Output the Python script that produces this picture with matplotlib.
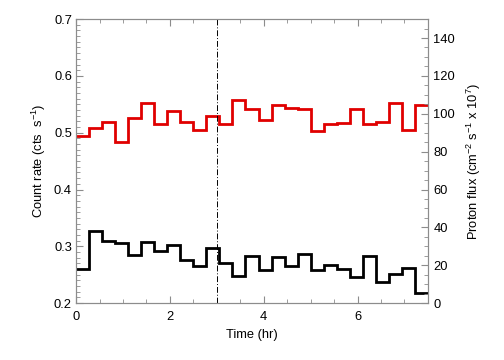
import numpy as np
import matplotlib
matplotlib.use("Agg")
from matplotlib import pyplot as plt
from matplotlib.ticker import MultipleLocator

# 1000 s bins over a 7.5 hr observation
bin_seconds = 1000
count_rate = [0.495, 0.508, 0.518, 0.483, 0.525, 0.553, 0.516, 0.539, 0.519,
              0.505, 0.529, 0.515, 0.557, 0.541, 0.522, 0.549, 0.543, 0.541,
              0.503, 0.515, 0.517, 0.541, 0.516, 0.519, 0.553, 0.505, 0.548]
proton_flux = [18.1, 37.9, 32.9, 31.5, 25.4, 32.2, 27.5, 30.5, 22.9,
               19.5, 29.2, 21.0, 14.1, 25.1, 17.3, 24.5, 19.5, 25.9,
               17.4, 20.1, 18.0, 13.6, 25.0, 10.9, 15.2, 18.7, 5.6]
flare_cut_hr = 3.0

edges = np.arange(len(count_rate) + 1) * bin_seconds / 3600.0

plt.rcParams["font.family"] = ["Liberation Sans", "DejaVu Sans"]
plt.rcParams["font.size"] = 9.3
plt.rcParams["mathtext.fontset"] = "custom"
plt.rcParams["mathtext.rm"] = "Liberation Sans"

fig = plt.figure(figsize=(5.04, 3.6), dpi=100)
ax = fig.add_axes([0.151, 0.158, 0.698, 0.789])
ax2 = ax.twinx()

ax.stairs(count_rate, edges, baseline=None, color="#e00000", linewidth=2.0)
ax2.stairs(proton_flux, edges, baseline=None, color="black", linewidth=2.0)
ax.axvline(flare_cut_hr, color="black", linestyle=(0, (6, 2, 1, 2)), linewidth=0.7)

ax.set_xlim(0, 7.5)
ax.set_ylim(0.2, 0.7)
ax2.set_ylim(0, 150)

ax.xaxis.set_major_locator(MultipleLocator(2))
ax.xaxis.set_minor_locator(MultipleLocator(0.5))
ax.yaxis.set_major_locator(MultipleLocator(0.1))
ax.yaxis.set_minor_locator(MultipleLocator(0.01))
ax2.yaxis.set_major_locator(MultipleLocator(20))
ax2.yaxis.set_minor_locator(MultipleLocator(5))

gray = "#8c8c8c"
for a in (ax, ax2):
    for spine in a.spines.values():
        spine.set_color(gray)
        spine.set_linewidth(0.8)
ax.tick_params(which="both", direction="in", color=gray, top=True, right=False,
               labelcolor="black")
ax.tick_params(axis="x", pad=6)
ax.tick_params(axis="y", pad=3)
ax.tick_params(which="major", length=5, width=0.8)
ax.tick_params(which="minor", length=3, width=0.6)
ax2.tick_params(which="both", direction="in", color=gray, labelcolor="black", pad=4)
ax2.tick_params(which="major", length=5, width=0.8)
ax2.tick_params(which="minor", length=3, width=0.6)

ax.set_xlabel("Time (hr)", labelpad=4)
ax.set_ylabel("Count rate (cts  s$^{-1}$)", labelpad=4)
ax2.set_ylabel("Proton flux (cm$^{-2}$ s$^{-1}$ x 10$^{7}$)", labelpad=7)

fig.savefig("out.png", dpi=100)
